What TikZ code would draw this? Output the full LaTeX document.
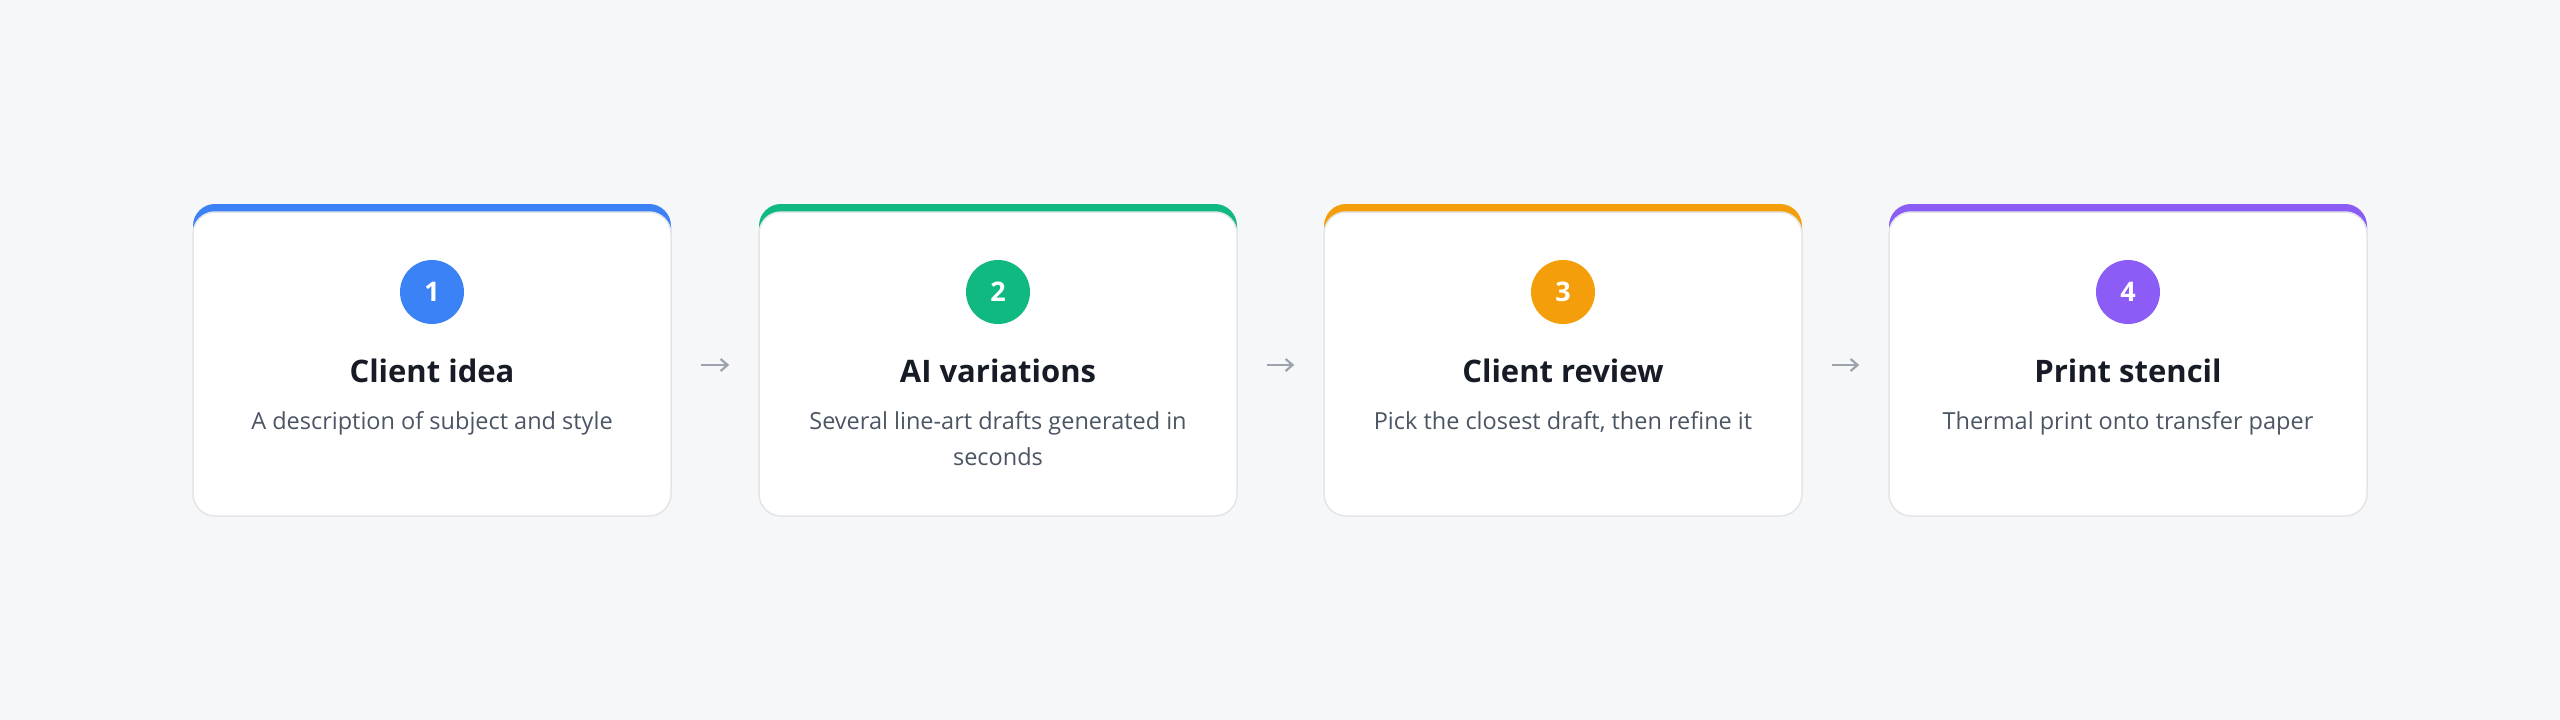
\documentclass[tikz,border=0pt]{standalone}
\usepackage{fontspec}
\setmainfont{Open Sans}
\usetikzlibrary{arrows.meta}

\definecolor{pagebg}{HTML}{F6F7F9}
\definecolor{cardline}{HTML}{E3E5E9}
\definecolor{titlecol}{HTML}{161B26}
\definecolor{desccol}{HTML}{4B5563}
\definecolor{arrowcol}{HTML}{9CA3AF}
\definecolor{blueA}{HTML}{3B82F6}
\definecolor{greenA}{HTML}{10B981}
\definecolor{orangeA}{HTML}{F59E0B}
\definecolor{purpleA}{HTML}{8B5CF6}

\tikzset{
  card/.style={fill=white, draw=cardline, line width=1.5pt, rounded corners=22pt,
    minimum width=478pt, minimum height=304pt, inner sep=0pt},
  cardtop/.style={rounded corners=22pt},
  badge/.style={circle, minimum size=64pt, inner sep=0pt, text=white,
    font=\fontsize{27}{30}\selectfont\bfseries},
  steptitle/.style={anchor=base, text=titlecol, inner sep=0pt,
    font=\fontsize{31}{36}\selectfont\bfseries},
  stepdesc/.style={anchor=base, text=desccol, inner sep=0pt, align=center,
    font=\fontsize{23.5}{36}\selectfont},
  flowarrow/.style={draw=arrowcol, line width=2.2pt,
    -{Straight Barb[length=7pt, width=12pt, line width=2.2pt]}}
}

\begin{document}
\begin{tikzpicture}[x=1pt, y=-1pt]
    % Háttér
    \fill[pagebg] (0,0) rectangle (2560,720);
    \useasboundingbox (0,0) rectangle (2560,720);

    % Első kártya
    \fill[blueA, cardtop] (193,204) rectangle (671,516);
    \node[card] (card1) at (432,364) {};
    \node[badge, fill=blueA] (num1) at (432,292) {1};
    \node[steptitle] (title1) at (432,382) {Client idea};
    \node[stepdesc] (desc1) at (432,429) {A description of subject and style};

    % Második kártya (a leírás alapvonala az utolsó soré)
    \fill[greenA, cardtop] (759,204) rectangle (1237,516);
    \node[card] (card2) at (998,364) {};
    \node[badge, fill=greenA] (num2) at (998,292) {2};
    \node[steptitle] (title2) at (998,382) {AI variations};
    \node[stepdesc] (desc2) at (998,465) {Several line-art drafts generated in\\seconds};

    % Harmadik kártya
    \fill[orangeA, cardtop] (1324,204) rectangle (1802,516);
    \node[card] (card3) at (1563,364) {};
    \node[badge, fill=orangeA] (num3) at (1563,292) {3};
    \node[steptitle] (title3) at (1563,382) {Client review};
    \node[stepdesc] (desc3) at (1563,429) {Pick the closest draft, then refine it};

    % Negyedik kártya
    \fill[purpleA, cardtop] (1889,204) rectangle (2367,516);
    \node[card] (card4) at (2128,364) {};
    \node[badge, fill=purpleA] (num4) at (2128,292) {4};
    \node[steptitle] (title4) at (2128,382) {Print stencil};
    \node[stepdesc] (desc4) at (2128,429) {Thermal print onto transfer paper};

    % Nyilak
    \draw[flowarrow] ([xshift=29pt,yshift=-1pt]card1.east) -- ([xshift=-29pt,yshift=-1pt]card2.west);
    \draw[flowarrow] ([xshift=29pt,yshift=-1pt]card2.east) -- ([xshift=-29pt,yshift=-1pt]card3.west);
    \draw[flowarrow] ([xshift=29pt,yshift=-1pt]card3.east) -- ([xshift=-29pt,yshift=-1pt]card4.west);
\end{tikzpicture}
\end{document}
